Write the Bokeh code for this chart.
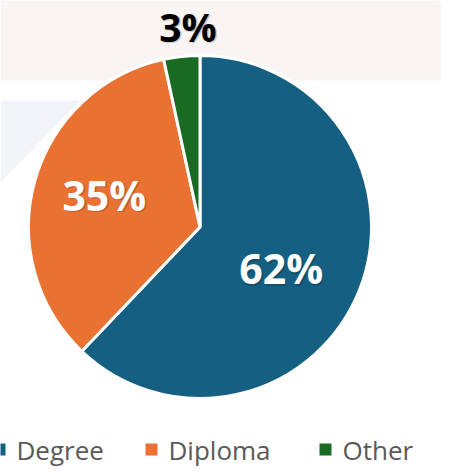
import numpy as np
from bokeh.plotting import figure
from bokeh.models import Range1d, ColumnDataSource
from bokeh.core.properties import value
from bokeh.embed import file_html
from bokeh.resources import INLINE

# ---- data ----
categories = ["Degree", "Diploma", "Other"]
shares = [62.1, 34.5, 3.4]
share_labels = ["62%", "35%", "3%"]
colors = ["#156082", "#E97132", "#196B24"]

# ---- layout (x right, y = 476 - screen y) ----
H = 476
cx, cy, R = 199.5, H - 226.5, 171.5

p = figure(width=441, height=468, output_backend="svg", toolbar_location=None,
           x_range=Range1d(0, 441), y_range=Range1d(8, 476),
           min_border=0, outline_line_color=None)
p.axis.visible = False
p.grid.visible = False
p.background_fill_color = "white"

# decorative background shapes
p.patch([0, 438, 449, 449, 0], [H - 0, H - 0, H - 10, H - 80, H - 80],
        fill_color="#FAF5F3", line_color=None)
p.patch([0, 80, 0], [H - 100, H - 100, H - 182],
        fill_color="#F2F4F8", line_color=None)

# pie wedges
vals = np.array(shares, dtype=float)
frac = vals / vals.sum()
ang = frac * 2 * np.pi
ends = np.pi / 2 - np.cumsum(ang)
starts = ends + ang
src = ColumnDataSource(dict(cat=categories, start=starts, end=ends, color=colors))
p.wedge(x=cx, y=cy, radius=R, start_angle="start", end_angle="end",
        direction="clock", fill_color="color", line_color="white",
        line_width=3, source=src)

# labels
mid = (starts + ends) / 2
label_r = np.array([91.0, 101.0, 201.0])
label_dang = np.radians([-5.0, -3.0, -2.7])
lx = cx + label_r * np.cos(mid + label_dang)
ly = cy + label_r * np.sin(mid + label_dang)
lcol = ["white", "white", "black"]
lsize = ["41px", "41px", "39px"]
p.text(x=lx + 1.5, y=ly - 1.5, text=share_labels, text_color="black", text_alpha=0.2,
       text_font=value("Open Sans"), text_font_style="bold", text_font_size=lsize,
       text_align="center", text_baseline="middle")
p.text(x=lx, y=ly, text=share_labels, text_color=lcol,
       text_font=value("Open Sans"), text_font_style="bold", text_font_size=lsize,
       text_align="center", text_baseline="middle")

# legend (manual)
leg_x = np.array([-1.0, 151.0, 325.0])
leg_y = np.full(3, H - 449.0)
p.rect(x=leg_x, y=leg_y, width=12, height=12, fill_color=colors, line_color=None)
p.text(x=leg_x + 17, y=leg_y, text=categories, text_color="#595959",
       text_font=value("Open Sans"), text_font_size="26px",
       text_align="left", text_baseline="middle")

open("out.html", "w").write(file_html(p, INLINE))
